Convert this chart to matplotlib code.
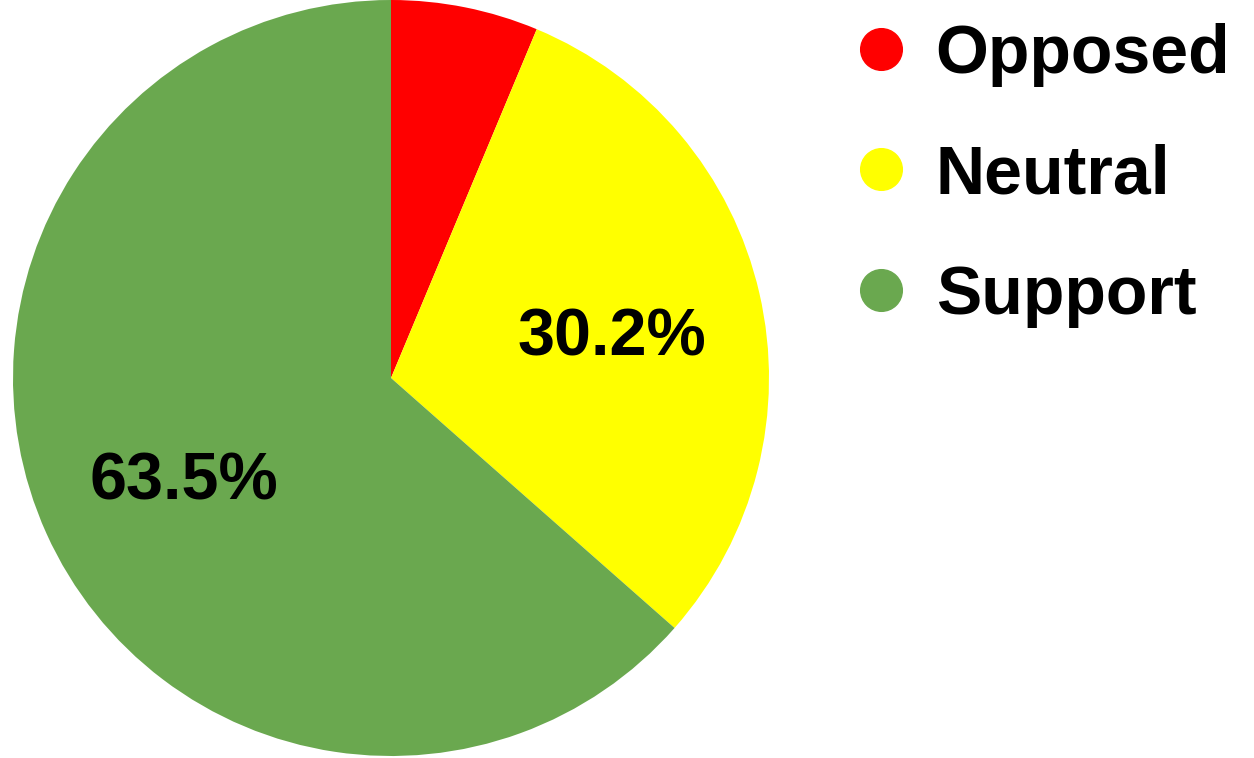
import matplotlib
matplotlib.use('Agg')
import matplotlib.pyplot as plt
from matplotlib.lines import Line2D
import numpy as np

categories = ['Opposed', 'Neutral', 'Support']
shares = [6.3, 30.2, 63.5]
colors = ['#FF0000', '#FFFF00', '#6AA84F']
shown_labels = ['', '30.2%', '63.5%']

plt.rcParams['font.family'] = ['Liberation Sans', 'DejaVu Sans']
plt.rcParams['font.weight'] = 'bold'

fig = plt.figure(figsize=(12.54, 7.58), dpi=100)
ax = fig.add_axes([13 / 1254, 2 / 758, 756 / 1254, 756 / 758])

wedges, texts = ax.pie(shares, colors=colors, startangle=90, counterclock=False,
                       wedgeprops={'linewidth': 0})
ax.set_aspect('equal')
ax.set_xlim(-1, 1)
ax.set_ylim(-1, 1)

# percentage labels (the small Opposed slice has none)
for w, lab in zip(wedges, shown_labels):
    if not lab:
        continue
    ang = np.deg2rad((w.theta1 + w.theta2) / 2)
    ax.text(0.6 * np.cos(ang), 0.6 * np.sin(ang) - 0.03, lab, ha='center', va='center',
            fontsize=48, fontweight='bold', color='black')

handles = [Line2D([], [], marker='o', linestyle='', markersize=30,
                  markerfacecolor=c, markeredgecolor=c) for c in colors]
fig.legend(handles, categories, loc='upper left', bbox_to_anchor=(820 / 1254, 1.006),
           frameon=False, prop={'weight': 'bold', 'size': 49},
           labelspacing=0.83, handletextpad=0.3, handlelength=1.0, borderaxespad=0.0)

fig.savefig('out.png', dpi=100)
